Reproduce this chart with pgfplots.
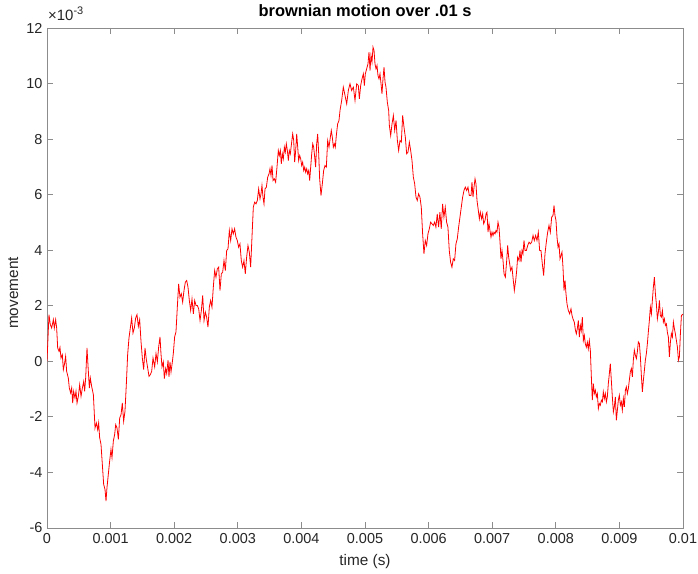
\documentclass[border=0pt]{standalone}
\usepackage{pgfplots}
\pgfplotsset{compat=1.18}
\usepackage{fontspec}
\setmainfont{Liberation Sans}
\definecolor{axgray}{RGB}{140,140,140}
\definecolor{txt}{RGB}{38,38,38}
\begin{document}
\begin{tikzpicture}
\begin{axis}[
  at={(47bp,46bp)}, anchor=south west,
  width=636bp, height=500bp, scale only axis,
  xmin=0, xmax=10, ymin=-6, ymax=12,
  xtick={0,1,2,3,4,5,6,7,8,9,10},
  xticklabels={0,0.001,0.002,0.003,0.004,0.005,0.006,0.007,0.008,0.009,0.01},
  ytick={-6,-4,-2,0,2,4,6,8,10,12},
  yticklabels={-6,-4,-2,0,2,4,6,8,10,12},
  tick align=inside, tick pos=both,
  major tick length=6bp,
  axis line style={axgray, line width=0.8bp},
  every tick/.style={axgray, line width=0.8bp},
  ticklabel style={font=\fontsize{14.5}{16}\selectfont, text=txt},
  xticklabel style={yshift=-2bp},
  yticklabel style={xshift=-1bp},
  title={brownian motion over .01 s},
  title style={at={(axis description cs:0.5,1.022)}, anchor=center, font=\fontsize{16.5}{19}\selectfont\bfseries, text=black},
  xlabel={time (s)},
  xlabel style={at={(axis description cs:0.5,-0.068)}, anchor=center, font=\fontsize{15.4}{18}\selectfont, text=txt},
  ylabel={movement},
  ylabel style={at={(axis description cs:-0.053,0.47)}, anchor=center, rotate=0, font=\fontsize{15.4}{18}\selectfont, text=txt},
]
\addplot[red, line width=0.8bp] table {
x y
0 0.0
0.031 1.68
0.052 1.32
0.073 1.20
0.100 1.50
0.115 1.20
0.136 1.50
0.152 1.20
0.168 0.48
0.189 0.36
0.204 0.50
0.220 0.12
0.241 0.24
0.257 -0.30
0.273 -0.12
0.293 0.18
0.309 -0.36
0.335 -0.60
0.351 -0.96
0.372 -1.14
0.388 -0.96
0.404 -1.50
0.419 -1.08
0.440 -1.32
0.456 -1.08
0.472 -1.50
0.493 -1.26
0.514 -0.84
0.535 -1.26
0.556 -0.96
0.577 -0.72
0.592 -1.08
0.608 -0.60
0.629 0.48
0.650 -0.36
0.666 -0.96
0.681 -0.60
0.702 -0.90
0.729 -1.20
0.755 -2.40
0.776 -2.22
0.797 -2.46
0.812 -2.22
0.828 -2.75
0.849 -2.99
0.870 -3.71
0.891 -4.43
0.912 -4.61
0.928 -5.03
0.943 -4.55
0.964 -4.07
0.985 -3.59
1.006 -3.17
1.022 -3.47
1.043 -2.87
1.064 -2.63
1.080 -2.28
1.101 -2.40
1.122 -2.81
1.143 -2.04
1.164 -1.92
1.184 -1.50
1.205 -2.16
1.226 -1.80
1.247 -0.84
1.268 0.24
1.289 0.84
1.310 1.20
1.331 1.56
1.352 1.02
1.373 1.20
1.394 1.56
1.415 1.68
1.436 1.26
1.457 1.50
1.478 0.72
1.499 0.12
1.520 -0.30
1.541 0.48
1.562 0.06
1.583 -0.24
1.604 -0.54
1.625 -0.48
1.646 -0.36
1.667 0.12
1.693 -0.20
1.714 0.28
1.735 -0.02
1.756 0.52
1.777 0.88
1.792 0.28
1.808 -0.20
1.829 -0.02
1.845 -0.62
1.866 -0.26
1.882 -0.44
1.903 0.04
1.918 -0.56
1.934 -0.02
1.950 -0.38
1.971 -0.02
1.986 0.28
2.007 0.88
2.028 1.06
2.049 1.95
2.070 2.79
2.091 2.31
2.112 2.43
2.133 2.13
2.154 2.55
2.175 2.85
2.196 2.91
2.217 2.67
2.238 2.19
2.259 1.83
2.280 2.25
2.301 1.71
2.322 2.19
2.343 2.01
2.364 2.01
2.385 1.89
2.406 1.47
2.427 1.83
2.448 2.37
2.469 1.47
2.490 1.77
2.510 1.59
2.531 1.23
2.552 1.95
2.573 2.19
2.594 1.95
2.615 2.67
2.636 3.27
2.657 3.03
2.678 3.33
2.699 3.39
2.720 2.55
2.741 3.15
2.762 3.21
2.783 3.63
2.804 3.27
2.825 3.99
2.846 4.05
2.867 4.71
2.888 4.35
2.909 4.77
2.929 4.59
2.950 4.77
2.971 4.47
2.992 4.35
3.013 4.11
3.034 4.23
3.055 3.63
3.076 3.39
3.097 3.63
3.118 3.15
3.139 3.75
3.160 4.17
3.181 3.93
3.202 3.39
3.223 4.47
3.244 5.55
3.265 5.73
3.286 5.67
3.307 5.79
3.328 6.21
3.349 5.85
3.365 6.03
3.380 6.33
3.396 5.91
3.412 5.67
3.428 6.21
3.449 6.27
3.470 6.63
3.491 6.75
3.506 6.93
3.522 6.69
3.538 7.05
3.554 6.51
3.574 6.57
3.595 6.45
3.616 6.99
3.637 7.59
3.653 7.41
3.669 7.59
3.684 7.11
3.700 7.47
3.716 7.29
3.732 7.71
3.747 7.53
3.763 7.83
3.779 7.59
3.795 7.23
3.810 7.59
3.826 7.47
3.847 7.89
3.863 8.19
3.879 7.95
3.894 7.17
3.910 7.59
3.926 8.19
3.942 7.71
3.957 7.23
3.973 7.41
3.989 7.29
4.004 7.05
4.020 7.17
4.036 6.87
4.052 6.99
4.067 6.81
4.083 6.93
4.099 6.75
4.115 6.87
4.130 6.51
4.146 6.99
4.162 7.47
4.178 7.83
4.193 7.71
4.209 7.35
4.224 6.99
4.240 7.83
4.256 8.19
4.272 7.47
4.287 6.57
4.308 5.97
4.329 6.39
4.350 6.87
4.371 7.05
4.392 6.99
4.413 7.95
4.434 7.71
4.455 8.07
4.470 8.31
4.486 8.07
4.502 7.71
4.518 7.83
4.533 7.71
4.549 8.13
4.570 8.55
4.591 8.67
4.607 9.03
4.633 9.39
4.659 9.87
4.686 9.57
4.712 9.27
4.738 9.75
4.764 9.99
4.790 9.75
4.817 9.87
4.843 9.39
4.869 9.99
4.895 9.93
4.911 9.45
4.932 9.93
4.953 10.17
4.974 10.35
4.990 9.93
5.005 10.35
5.026 10.53
5.047 10.71
5.063 11.13
5.079 10.47
5.094 11.01
5.110 10.77
5.126 11.31
5.142 11.19
5.157 10.71
5.173 10.53
5.189 10.65
5.204 10.29
5.220 10.17
5.236 10.35
5.252 9.99
5.267 9.63
5.283 10.17
5.299 10.59
5.315 10.05
5.330 9.87
5.351 9.33
5.372 9.03
5.383 8.49
5.404 8.13
5.425 8.55
5.446 8.85
5.467 8.31
5.488 8.67
5.509 7.95
5.529 7.59
5.550 7.95
5.571 7.89
5.592 8.85
5.613 8.43
5.634 8.07
5.655 7.47
5.676 7.53
5.697 7.89
5.718 7.59
5.739 7.23
5.760 6.63
5.781 6.39
5.802 5.91
5.822 5.79
5.843 6.03
5.864 5.91
5.885 5.55
5.906 4.59
5.927 3.87
5.948 4.35
5.969 4.17
5.990 4.59
6.011 4.77
6.032 5.01
6.053 4.95
6.074 4.89
6.095 5.01
6.115 4.83
6.136 5.31
6.157 4.83
6.178 5.37
6.199 4.77
6.220 5.67
6.241 5.19
6.262 5.55
6.283 5.01
6.304 4.83
6.325 3.99
6.346 3.57
6.367 3.39
6.388 3.69
6.409 3.63
6.430 4.23
6.451 4.41
6.472 4.83
6.493 5.19
6.514 5.55
6.535 5.91
6.556 6.15
6.577 6.27
6.598 6.15
6.619 6.27
6.640 5.97
6.667 5.97
6.682 6.45
6.698 5.91
6.714 6.27
6.730 6.57
6.745 6.39
6.761 5.79
6.782 5.43
6.798 5.13
6.813 5.37
6.834 5.13
6.850 5.31
6.866 4.95
6.887 5.07
6.903 5.31
6.918 5.37
6.934 4.65
6.950 4.95
6.965 4.71
6.981 4.47
6.997 4.65
7.013 4.53
7.028 4.65
7.044 4.59
7.060 4.71
7.075 4.65
7.091 5.01
7.107 4.83
7.123 4.29
7.138 3.69
7.154 3.99
7.170 3.63
7.186 3.15
7.207 3.03
7.228 3.63
7.243 4.17
7.259 3.75
7.275 3.51
7.290 3.27
7.311 3.39
7.332 2.91
7.348 2.55
7.369 2.91
7.385 3.27
7.400 3.75
7.421 3.63
7.437 3.99
7.453 3.57
7.469 3.99
7.484 3.87
7.500 4.35
7.516 3.99
7.537 3.99
7.558 4.17
7.579 4.29
7.600 4.23
7.621 4.29
7.642 4.53
7.662 4.35
7.683 4.53
7.704 4.35
7.725 4.65
7.746 3.99
7.767 3.99
7.788 3.51
7.809 3.09
7.830 3.87
7.851 4.29
7.872 4.65
7.893 4.89
7.914 4.65
7.935 5.19
7.956 5.25
7.972 5.61
7.987 5.25
8.003 5.07
8.019 4.47
8.035 4.11
8.050 4.23
8.066 3.69
8.082 3.81
8.097 3.93
8.113 3.39
8.129 2.55
8.145 2.91
8.160 2.43
8.176 2.07
8.197 1.83
8.218 1.71
8.239 1.89
8.255 1.65
8.270 1.53
8.291 1.41
8.307 1.14
8.323 0.99
8.338 1.17
8.354 1.47
8.370 0.87
8.386 1.29
8.401 1.11
8.417 1.59
8.433 0.75
8.449 0.93
8.464 0.63
8.480 0.51
8.496 0.69
8.511 0.45
8.527 0.75
8.543 0.39
8.559 -0.56
8.574 -1.40
8.590 -0.80
8.606 -1.16
8.622 -1.04
8.637 -1.28
8.653 -1.16
8.669 -1.70
8.684 -1.52
8.700 -1.58
8.716 -1.40
8.732 -1.46
8.747 -1.10
8.763 -1.34
8.779 -1.16
8.795 -1.46
8.810 -1.28
8.826 -0.80
8.842 -0.44
8.857 -0.08
8.873 -0.68
8.889 -1.28
8.905 -1.82
8.920 -1.64
8.936 -1.28
8.952 -2.12
8.968 -1.76
8.983 -1.40
8.999 -1.22
9.015 -1.58
9.031 -1.46
9.046 -1.76
9.062 -1.34
9.078 -1.64
9.094 -1.04
9.109 -0.92
9.125 -1.16
9.141 -0.98
9.156 -0.68
9.172 -0.38
9.188 -0.26
9.204 -0.56
9.219 0.04
9.235 0.40
9.251 0.22
9.267 0.10
9.282 0.34
9.298 0.70
9.314 0.64
9.330 0.16
9.345 -0.50
9.361 -1.10
9.377 -0.68
9.393 -0.32
9.408 0.04
9.424 0.28
9.440 0.64
9.455 1.06
9.471 1.47
9.487 1.95
9.503 1.71
9.518 2.19
9.534 2.67
9.550 3.03
9.566 2.43
9.581 2.07
9.597 1.53
9.613 1.77
9.629 2.19
9.644 1.65
9.660 1.59
9.676 1.83
9.691 1.41
9.707 1.53
9.723 1.29
9.739 1.35
9.754 1.05
9.770 0.87
9.786 0.16
9.802 0.70
9.817 1.00
9.833 0.87
9.849 1.41
9.865 1.17
9.880 0.99
9.896 0.75
9.912 0.51
9.928 0.04
9.943 0.16
9.959 0.99
9.975 1.65
10.0 1.70
};
\end{axis}
\node[anchor=base west, inner sep=0pt, text=txt] at ([xshift=1bp, yshift=7bp]current axis.north west) {{\fontsize{15}{16}\selectfont ×10}\raisebox{6.5bp}{\fontsize{11}{12}\selectfont -3}};
\pgfresetboundingbox
\path[use as bounding box] (0,0) rectangle (698bp,574bp);
\end{tikzpicture}
\end{document}
